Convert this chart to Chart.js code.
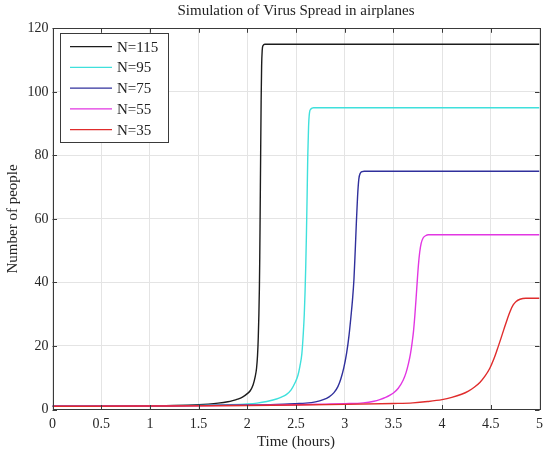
<!DOCTYPE html>
<html>
<head>
<meta charset="utf-8">
<script src="https://cdn.jsdelivr.net/npm/chart.js@4/dist/chart.umd.min.js"></script>
<style>
html,body{margin:0;padding:0;background:#fff;}
#wrap{width:550px;height:453px;position:relative;}
</style>
</head>
<body>
<div id="wrap"><canvas id="c"></canvas></div>
<script>
// ---- data ----
const seriesLabels = ['N=115', 'N=95', 'N=75', 'N=55', 'N=35'];

const tN115 = [0, 0.5, 1, 1.25, 1.5, 1.6, 1.7, 1.8, 1.85, 1.9, 1.95, 2.0, 2.03, 2.06, 2.08, 2.095, 2.105, 2.113, 2.119, 2.124, 2.128, 2.132, 2.137, 2.142, 2.147, 2.153, 2.162, 2.18, 5];
const vN115 = [1, 1.05, 1.15, 1.25, 1.5, 1.7, 2.0, 2.45, 2.8, 3.25, 3.9, 5.0, 5.9, 7.8, 10.2, 13, 17, 23, 30, 38, 48, 62, 80, 97, 108, 113, 114.6, 115, 115];

const tN95 = [0, 1, 1.5, 1.8, 2.0, 2.1, 2.2, 2.3, 2.35, 2.40, 2.45, 2.49, 2.52, 2.54, 2.56, 2.575, 2.585, 2.593, 2.6, 2.607, 2.614, 2.621, 2.629, 2.638, 2.653, 2.68, 5];
const vN95 = [1, 1.12, 1.3, 1.5, 1.75, 2.0, 2.5, 3.3, 3.9, 4.7, 6.2, 8.4, 10.8, 13.6, 17.5, 24, 30, 37, 45, 55, 67, 80, 89, 93.3, 94.6, 95, 95];

const tN75 = [0, 1, 2, 2.3, 2.5, 2.6, 2.7, 2.78, 2.84, 2.89, 2.93, 2.96, 2.99, 3.02, 3.045, 3.065, 3.08, 3.095, 3.108, 3.12, 3.132, 3.145, 3.16, 3.18, 3.2, 5];
const vN75 = [1, 1.12, 1.4, 1.6, 1.85, 2.0, 2.4, 3.1, 4.0, 5.3, 7.2, 9.6, 13, 17.8, 23.5, 29.5, 34.5, 41, 50, 59, 67, 72.5, 74.4, 74.9, 75, 75];

const tN55 = [0, 1, 2, 2.5, 2.8, 3.0, 3.19, 3.3, 3.36, 3.42, 3.47, 3.5, 3.55, 3.6, 3.63, 3.655, 3.675, 3.692, 3.706, 3.72, 3.733, 3.745, 3.757, 3.77, 3.785, 3.805, 3.83, 3.86, 5];
const vN55 = [1, 1.1, 1.3, 1.5, 1.7, 1.85, 2.1, 2.6, 3.1, 3.8, 4.6, 5.2, 6.7, 9.2, 11.6, 14.5, 17.5, 21, 24.5, 29.5, 35, 40.5, 45.5, 49.5, 52.3, 54, 54.7, 55, 55];

const tN35 = [0, 1, 2, 2.5, 3, 3.5, 3.7, 3.85, 4.0, 4.1, 4.2, 4.27, 4.33, 4.39, 4.44, 4.49, 4.53, 4.565, 4.6, 4.635, 4.67, 4.7, 4.73, 4.76, 4.8, 4.86, 5];
const vN35 = [1, 1.1, 1.25, 1.4, 1.6, 1.9, 2.1, 2.5, 3.1, 3.8, 4.8, 5.8, 7.0, 8.6, 10.5, 13.0, 15.8, 18.8, 22.0, 25.3, 28.5, 31, 32.9, 34, 34.7, 35, 35];

const seriesT = [tN115, tN95, tN75, tN55, tN35];
const seriesV = [vN115, vN95, vN75, vN55, vN35];
const seriesColors = ['#1c1c1c', '#3fe0dc', '#30309c', '#e236e2', '#e02c2c'];

const titleText = 'Simulation of Virus Spread in airplanes';
const xTitle = 'Time (hours)';
const yTitle = 'Number of people';

// ---- chart ----
const FONT = "'Liberation Serif', 'Times New Roman', serif";

const datasets = seriesLabels.map((lab, i) => ({
  label: lab,
  data: seriesT[i].map((t, j) => ({x: t, y: seriesV[i][j]})),
  borderColor: seriesColors[i],
  backgroundColor: seriesColors[i],
  borderWidth: 1.4,
  pointRadius: 0,
  cubicInterpolationMode: 'monotone',
  fill: false,
  order: seriesLabels.length - 1 - i
}));

const boxTicks = {
  id: 'boxTicks',
  afterDatasetsDraw(chart) {
    const {ctx, chartArea: a, scales: {x, y}} = chart;
    ctx.save();
    ctx.strokeStyle = '#3a3a3a';
    ctx.lineWidth = 1;
    const L = 4.5;
    ctx.beginPath();
    x.ticks.forEach(tk => {
      const px = Math.round(x.getPixelForValue(tk.value)) + 0.5;
      ctx.moveTo(px, a.bottom); ctx.lineTo(px, a.bottom - L);
      ctx.moveTo(px, a.top); ctx.lineTo(px, a.top + L);
    });
    y.ticks.forEach(tk => {
      const py = Math.round(y.getPixelForValue(tk.value)) + 0.5;
      ctx.moveTo(a.left, py); ctx.lineTo(a.left + L, py);
      ctx.moveTo(a.right, py); ctx.lineTo(a.right - L, py);
    });
    ctx.stroke();
    ctx.strokeRect(Math.round(a.left) + 0.5, Math.round(a.top) + 0.5,
                   Math.round(a.right - a.left), Math.round(a.bottom - a.top));
    ctx.restore();
  }
};

const innerLegend = {
  id: 'innerLegend',
  afterDraw(chart) {
    const {ctx} = chart;
    const bx = 60.5, by = 33.5, bw = 108, bh = 109;
    ctx.save();
    ctx.fillStyle = '#ffffff';
    ctx.fillRect(bx, by, bw, bh);
    ctx.strokeStyle = '#3a3a3a';
    ctx.lineWidth = 1;
    ctx.strokeRect(bx, by, bw, bh);
    ctx.font = '15px ' + FONT;
    ctx.textBaseline = 'middle';
    ctx.textAlign = 'left';
    chart.data.datasets.forEach((ds, i) => {
      const yy = 46.7 + i * 20.75;
      ctx.strokeStyle = ds.borderColor;
      ctx.lineWidth = 1.3;
      ctx.beginPath();
      ctx.moveTo(70, yy); ctx.lineTo(112, yy);
      ctx.stroke();
      ctx.fillStyle = '#222';
      ctx.fillText(ds.label, 117, yy + 1);
    });
    ctx.restore();
  }
};

const whiteBg = {
  id: 'whiteBg',
  beforeDraw(chart) {
    const {ctx, width, height} = chart;
    ctx.save();
    ctx.fillStyle = '#fff';
    ctx.fillRect(0, 0, width, height);
    ctx.restore();
  }
};

new Chart(document.getElementById('c'), {
  type: 'line',
  data: {datasets},
  plugins: [whiteBg, boxTicks, innerLegend],
  options: {
    responsive: true,
    maintainAspectRatio: false,
    animation: false,
    layout: {padding: {left: 0, right: 10.5, top: 0, bottom: 0}},
    plugins: {
      legend: {display: false},
      tooltip: {enabled: false},
      title: {
        display: true,
        text: titleText,
        fullSize: false,
        color: '#222',
        font: {family: FONT, size: 15, weight: 'normal', lineHeight: 1.2},
        padding: {top: 2, bottom: 8.3}
      }
    },
    scales: {
      x: {
        type: 'linear',
        min: 0, max: 5,
        border: {display: false},
        grid: {color: '#e4e4e4', lineWidth: 1, drawTicks: false},
        ticks: {stepSize: 0.5, color: '#262626', padding: 6,
                font: {family: FONT, size: 14}, maxRotation: 0, autoSkip: false,
                callback: (v) => String(Number(v))},
        title: {display: true, text: xTitle, color: '#262626',
                font: {family: FONT, size: 15, lineHeight: 1.2},
                padding: {top: 0, bottom: 2}},
        afterFit(scale) { scale.height = 43.5; }
      },
      y: {
        type: 'linear',
        min: 0, max: 120,
        border: {display: false},
        grid: {color: '#e4e4e4', lineWidth: 1, drawTicks: false},
        ticks: {stepSize: 20, color: '#262626', padding: 4,
                font: {family: FONT, size: 14}},
        title: {display: true, text: yTitle, color: '#262626',
                font: {family: FONT, size: 15, lineHeight: 1.2},
                padding: {top: 4.5, bottom: 0}},
        afterFit(scale) { scale.width = 52.5; }
      }
    }
  }
});
</script>
</body>
</html>
